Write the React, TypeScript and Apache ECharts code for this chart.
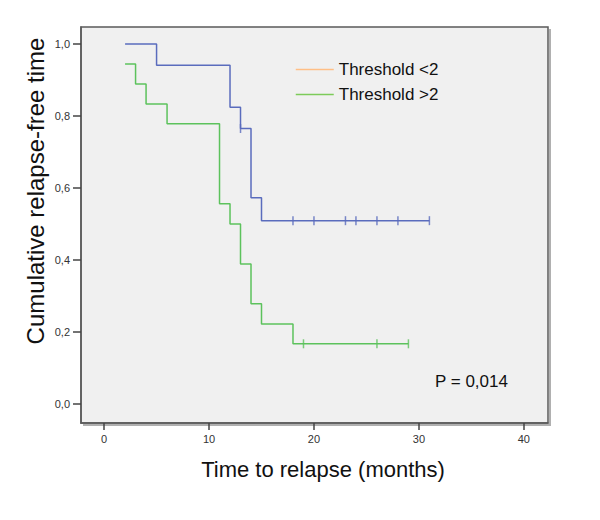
import React, { useEffect, useRef } from "react";
import * as echarts from "echarts";

const xTicks = [0, 10, 20, 30, 40];
const yTicks = [0, 0.2, 0.4, 0.6, 0.8, 1.0];

const seriesNames = ["Threshold <2", "Threshold >2"];

// Kaplan-Meier steps (time, survival after event)
const lowTimes = [2, 5, 12, 13, 14, 15, 31];
const lowValues = [1.0, 0.941, 0.824, 0.765, 0.573, 0.509, 0.509];
const lowCensorTimes = [13, 18, 20, 23, 24, 26, 28, 31];
const lowCensorValues = [0.765, 0.509, 0.509, 0.509, 0.509, 0.509, 0.509, 0.509];

const highTimes = [2, 3, 4, 6, 11, 12, 13, 14, 15, 18, 29];
const highValues = [0.944, 0.889, 0.833, 0.778, 0.556, 0.5, 0.389, 0.278, 0.222, 0.167, 0.167];
const highCensorTimes = [19, 26, 29];
const highCensorValues = [0.167, 0.167, 0.167];

const pText = "P = 0,014";

const FONT = "'Liberation Sans', Arial, sans-serif";
const BLUE = "#5a6cbd";
const GREEN = "#5cc25c";
const LEG_ORANGE = "#ffbf86";
const LEG_GREEN = "#7dcb5a";
const FRAME = "#5a5a5a";

export default function App() {
  const ref = useRef<HTMLDivElement>(null);
  useEffect(() => {
    if (!ref.current) return;
    const chart = echarts.init(ref.current, undefined, { renderer: "svg" });
    const zip = (a: number[], b: number[]) => a.map((t, i) => [t, b[i]]);
    chart.setOption({
      animation: false,
      textStyle: { fontFamily: FONT },
      grid: {
        left: 81,
        right: 52,
        top: 27,
        bottom: 97,
        show: true,
        borderColor: FRAME,
        borderWidth: 1.5,
        backgroundColor: "#f0f0f0",
      },
      xAxis: {
        type: "value",
        min: -2.2,
        max: 42.3,
        splitLine: { show: false },
        axisLine: { show: true, onZero: false, lineStyle: { color: FRAME, width: 1.5 } },
        axisTick: { show: true, inside: false, customValues: xTicks, length: 7, lineStyle: { color: "#444", width: 1.5 } },
        axisLabel: { customValues: xTicks, color: "#333", fontSize: 11, margin: 10, fontFamily: FONT },
      },
      yAxis: {
        type: "value",
        min: -0.053,
        max: 1.047,
        splitLine: { show: false },
        axisLine: { show: true, onZero: false, lineStyle: { color: FRAME, width: 1.5 } },
        axisTick: { show: true, inside: false, customValues: yTicks, length: 8, lineStyle: { color: "#444", width: 1.5 } },
        axisLabel: {
          customValues: yTicks,
          color: "#333",
          fontSize: 11,
          margin: 11,
          fontFamily: FONT,
          formatter: (v: number) => v.toFixed(1).replace(".", ","),
        },
      },
      legend: {
        orient: "vertical",
        left: 290,
        top: 56,
        itemWidth: 38,
        itemHeight: 14,
        itemGap: 8,
        textStyle: { fontSize: 17, color: "#111", fontFamily: FONT, lineHeight: 17 },
        data: [
          { name: seriesNames[0], itemStyle: { color: LEG_ORANGE, opacity: 0 }, lineStyle: { color: LEG_ORANGE, width: 1.5 } },
          { name: seriesNames[1], itemStyle: { color: LEG_GREEN, opacity: 0 }, lineStyle: { color: LEG_GREEN, width: 1.5 } },
        ],
      },
      series: [
        {
          name: seriesNames[0],
          type: "line",
          step: "end",
          symbol: "none",
          data: zip(lowTimes, lowValues),
          lineStyle: { color: BLUE, width: 1.5 },
          itemStyle: { color: BLUE },
          z: 3,
        },
        {
          name: seriesNames[1],
          type: "line",
          step: "end",
          symbol: "none",
          data: zip(highTimes, highValues),
          lineStyle: { color: GREEN, width: 1.5 },
          itemStyle: { color: GREEN },
          z: 2,
        },
        {
          name: "censor-low",
          type: "scatter",
          symbol: "rect",
          symbolSize: [1.5, 9],
          data: zip(lowCensorTimes, lowCensorValues),
          itemStyle: { color: BLUE },
          z: 4,
        },
        {
          name: "censor-high",
          type: "scatter",
          symbol: "rect",
          symbolSize: [1.5, 9],
          data: zip(highCensorTimes, highCensorValues),
          itemStyle: { color: GREEN },
          z: 4,
        },
      ],
      graphic: [
        {
          type: "line",
          shape: { x1: 550, y1: 29, x2: 550, y2: 425 },
          style: { stroke: "#b0b0b0", lineWidth: 2 },
          silent: true,
        },
        {
          type: "line",
          shape: { x1: 83, y1: 425, x2: 551, y2: 425 },
          style: { stroke: "#b0b0b0", lineWidth: 2 },
          silent: true,
        },
        {
          type: "text",
          left: 435,
          top: 373,
          style: { text: pText, font: `17px ${FONT}`, fill: "#111" },
          z: 10,
        },
        {
          type: "text",
          x: 323,
          y: 469,
          style: {
            text: "Time to relapse (months)",
            font: `22px ${FONT}`,
            fill: "#111",
            align: "center",
            verticalAlign: "middle",
          },
        },
        {
          type: "text",
          x: 35,
          y: 191,
          rotation: Math.PI / 2,
          style: {
            text: "Cumulative relapse-free time",
            font: `24px ${FONT}`,
            fill: "#111",
            align: "center",
            verticalAlign: "middle",
          },
        },
      ],
    });
    return () => chart.dispose();
  }, []);
  return (
    <div
      ref={ref}
      style={{ position: "fixed", left: 0, top: 0, width: 600, height: 520, background: "#fff" }}
    />
  );
}
